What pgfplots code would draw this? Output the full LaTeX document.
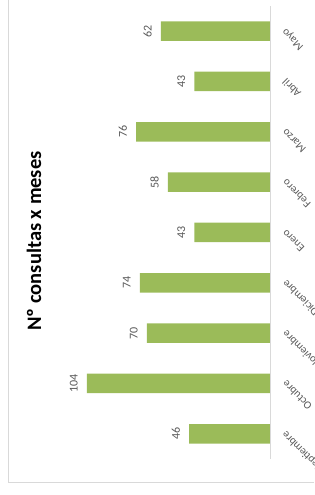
\documentclass[border=0pt]{standalone}
\usepackage{pgfplots}
\pgfplotsset{compat=1.18}
\usepackage{fontspec}
\setmainfont{Carlito}
\definecolor{bargreen}{RGB}{155,187,89}
\definecolor{lblgray}{RGB}{89,89,89}
\definecolor{framegray}{RGB}{217,217,217}
\begin{document}
\begin{tikzpicture}
\useasboundingbox (0,0) rectangle (314pt,495pt);
\begin{scope}
\clip (0,0) rectangle (314pt,495pt);
\begin{axis}[
  at={(58.8pt,36pt)}, anchor=south west,
  scale only axis, width=211.2pt, height=453pt,
  xbar, bar width=19.5pt,
  x dir=reverse,
  xmin=0, xmax=120, ymin=-0.5, ymax=8.5,
  hide x axis,
  axis line style={draw=none},
  major tick length=0pt,
  /pgf/number format/assume math mode=true,
  ytick={0,...,8},
  yticklabel pos=right,
  yticklabels={Septiembre,Octubre,Noviembre,Diciembre,Enero,Febrero,Marzo,Abril,Mayo},
  yticklabel style={xshift=14pt, yshift=1pt, rotate=135, anchor=east, inner sep=0pt,
    font=\fontsize{11}{13}\selectfont, text=lblgray},
  nodes near coords,
  every node near coord/.append style={xshift=-9pt, rotate=90, anchor=south, inner sep=0pt,
    font=\fontsize{12}{14}\selectfont, text=lblgray},
  clip=false,
]
\addplot[fill=bargreen, draw=none] coordinates {
  (46,0) (104,1) (70,2) (74,3) (43,4) (58,5) (76,6) (43,7) (62,8)};
\draw[framegray, line width=1pt] (axis cs:0,-0.5) -- (axis cs:0,8.5);
\end{axis}
\draw[framegray, line width=1pt] (8pt,495pt) -- (8pt,12pt) -- (314pt,12pt);
\node[rotate=90, font=\fontsize{20.5}{22}\selectfont\bfseries] at (34pt,254pt) {Nº consultas x meses};
\end{scope}
\end{tikzpicture}
\end{document}
